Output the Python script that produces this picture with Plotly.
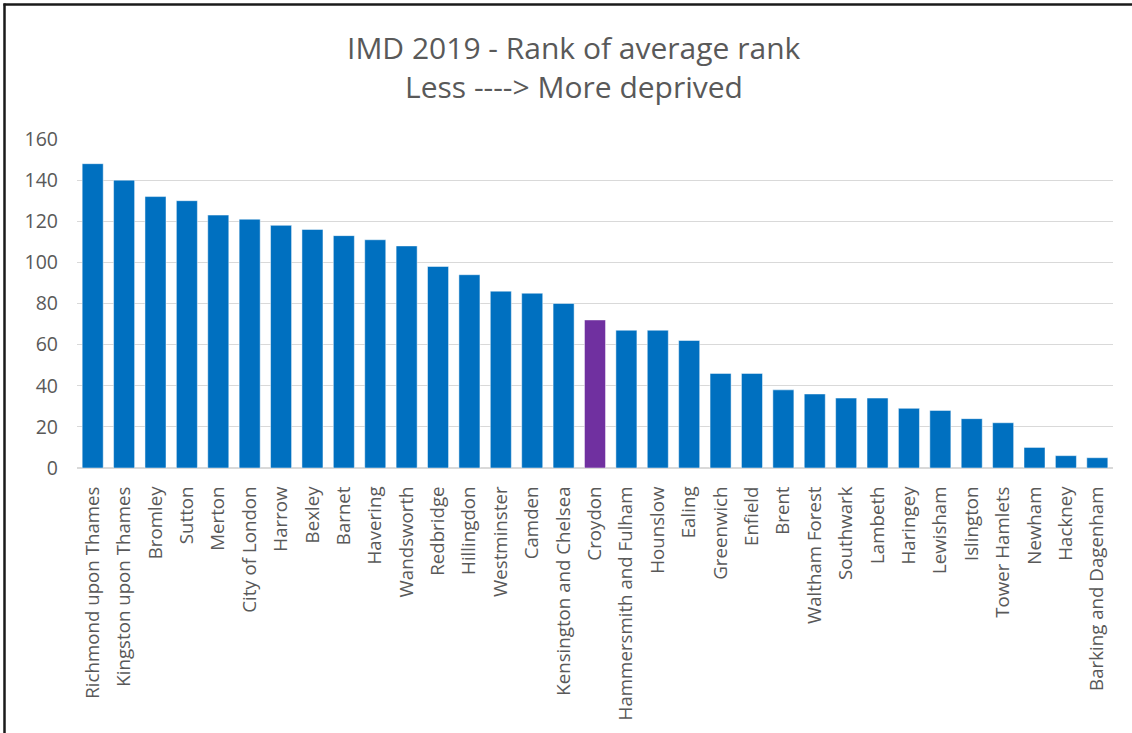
import plotly.graph_objects as go

boroughs = [
    "Richmond upon Thames", "Kingston upon Thames", "Bromley", "Sutton", "Merton",
    "City of London", "Harrow", "Bexley", "Barnet", "Havering", "Wandsworth",
    "Redbridge", "Hillingdon", "Westminster", "Camden", "Kensington and Chelsea",
    "Croydon", "Hammersmith and Fulham", "Hounslow", "Ealing", "Greenwich",
    "Enfield", "Brent", "Waltham Forest", "Southwark", "Lambeth", "Haringey",
    "Lewisham", "Islington", "Tower Hamlets", "Newham", "Hackney",
    "Barking and Dagenham",
]
rank_values = [
    148, 140, 132, 130, 123, 121, 118, 116, 113, 111, 108,
    98, 94, 86, 85, 80, 72, 67, 67, 62, 46,
    46, 38, 36, 34, 34, 29, 28, 24, 22, 10, 6, 5,
]
highlight = "Croydon"
y_ticks = [0, 20, 40, 60, 80, 100, 120, 140, 160]
title_lines = ["IMD 2019 - Rank of average rank", "Less ----> More deprived"]

base_color = "#0070C0"
hi_color = "#7030A0"
colors = [hi_color if b == highlight else base_color for b in boroughs]

text_color = "#595959"
font_family = "Open Sans"

fig = go.Figure(
    go.Bar(
        x=boroughs,
        y=rank_values,
        marker=dict(color=colors, line=dict(color="rgba(255,255,255,0.6)", width=0.8)),
        hoverinfo="x+y",
    )
)

W, H = 1132, 733
ml, mr, mt, mb = 77, 19, 139, 265

fig.update_layout(
    width=W,
    height=H,
    margin=dict(l=ml, r=mr, t=mt, b=mb, pad=0),
    paper_bgcolor="white",
    plot_bgcolor="white",
    bargap=0.33,
    showlegend=False,
    font=dict(family=font_family, color=text_color),
    xaxis=dict(
        tickangle=-90,
        tickfont=dict(size=18.7, color=text_color),
        showgrid=False,
        showline=True,
        linecolor="#D9D9D9",
        linewidth=1,
        ticks="",
        ticklabelstandoff=10,
        fixedrange=True,
    ),
    yaxis=dict(
        range=[0, 160],
        tickvals=y_ticks,
        tickfont=dict(size=19.5, color=text_color),
        showgrid=True,
        gridcolor="#D9D9D9",
        gridwidth=1,
        zeroline=True,
        zerolinecolor="#D9D9D9",
        showline=False,
        ticks="",
        ticklabelstandoff=18,
        fixedrange=True,
    ),
)

px_x = lambda p: (p - ml) / (W - ml - mr)
px_y = lambda p: (H - mb - p) / (H - mt - mb)

# two-line chart title
for line_text, yc in zip(title_lines, [47, 86]):
    fig.add_annotation(
        text=line_text, xref="paper", yref="paper",
        x=px_x(574), y=px_y(yc), xanchor="center", yanchor="middle",
        showarrow=False,
        font=dict(family=font_family, size=30, color=text_color),
    )

# outer frame lines (top and left) as in the screenshot
fig.add_shape(type="line", xref="paper", yref="paper",
              x0=px_x(3.5), x1=px_x(W + 5), y0=px_y(4.5), y1=px_y(4.5),
              line=dict(color="#1a1a1a", width=2.5))
fig.add_shape(type="line", xref="paper", yref="paper",
              x0=px_x(4.5), x1=px_x(4.5), y0=px_y(3.5), y1=px_y(H + 5),
              line=dict(color="#1a1a1a", width=2.5))

fig.write_html("out.html", config={"displayModeBar": False},
               post_script="document.body.style.margin='0px';")
